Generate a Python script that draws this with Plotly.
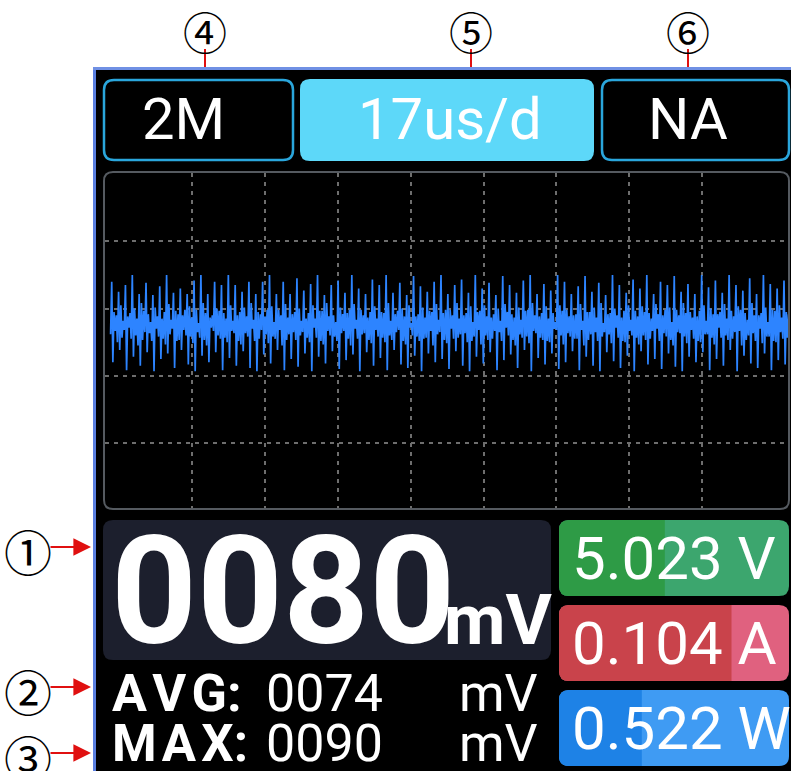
import plotly.graph_objects as go

W, H = 791, 771

# ---------------- data ----------------
# status bar labels
sample_rate_label = "2M"
timebase_label = "17us/d"
trigger_label = "NA"

# main readings
vpp_value = "0080"
vpp_unit = "mV"
avg_label = "A\u200aV\u200aG:"
max_label = "M\u200aA\u200aX:"
avg_value = "0074"
max_value = "0090"
stat_unit = "mV"

# side meters: value, unit, gauge fraction (dark part)
meter_values = ["5.023", "0.104", "0.522"]
meter_units = ["V", "A", "W"]
meter_fill = [0.46, 0.75, 0.36]

# scope settings
time_per_div_us = 17
mv_per_div = 60
samples_per_cell = 6
cell_us = 1.6
t_start_us = -2.0

# waveform samples (mV), read per 1.6 us cell
core_hi = [12, 18, 8, 15, 20, 10, 16, 6, 19, 13, 9, 17, 14, 20, 7, 15, 11, 18, 9, 16, 20, 12, 8, 17, 14,
           19, 10, 15, 6, 18, 13, 20, 9, 16, 11, 19, 14, 7, 17, 12, 20, 10, 15, 18, 8, 16, 13, 19, 11, 14,
           20, 9, 17, 12, 18, 7, 15, 19, 10, 16, 13, 20, 8, 17, 11, 18, 14, 9, 19, 12, 16, 20, 10, 15, 7,
           18, 13, 17, 11, 19, 9, 16, 14, 20, 12, 8, 18, 15, 10, 19, 13, 17, 11, 20, 9, 16, 14, 18, 12]
spike_top = [39, 30, 36, 45, 28, 38, 27, 35, 45, 29, 33, 28, 40, 45, 28, 39, 36, 45, 36, 30, 39, 28, 39, 45, 28,
             39, 28, 42, 31, 37, 45, 27, 36, 40, 29, 45, 33, 28, 41, 36, 45, 29, 38, 27, 44, 35, 30, 39, 45, 28,
             36, 41, 29, 45, 33, 38, 27, 44, 36, 29, 40, 45, 28, 37, 31, 45, 39, 28, 35, 44, 30, 38, 27, 45, 36,
             29, 41, 33, 45, 28, 39, 36, 44, 30, 37, 28, 45, 34, 40, 29, 45, 36, 31, 42, 28, 45, 37, 33, 40]
core_lo = [-8, -15, -4, -12, -18, -6, -14, -10, -17, -3, -13, -9, -16, -11, -18, -5, -12, -15, -7, -17, -10, -14, -4, -16, -12,
           -18, -8, -13, -6, -15, -11, -17, -9, -14, -5, -18, -12, -7, -16, -10, -15, -13, -4, -17, -9, -14, -11, -18, -6, -16,
           -12, -8, -15, -10, -17, -13, -5, -14, -9, -18, -11, -16, -7, -13, -15, -4, -17, -10, -12, -18, -8, -14, -6, -16, -11,
           -15, -9, -17, -13, -5, -14, -10, -18, -7, -16, -12, -15, -8, -17, -11, -13, -6, -18, -9, -14, -16, -10, -15, -12]
mid_up = [9, 4, 11, 6, 13, 3, 8, 12, 5, 10, 14, 7, 2, 11, 9, 13, 6, 4, 12, 8, 5, 10, 14, 3, 9,
          7, 12, 4, 11, 6, 13, 8, 3, 10, 14, 5, 9, 12, 6, 11, 4, 13, 8, 2, 10, 7, 12, 5, 14, 9,
          6, 11, 3, 13, 8, 10, 4, 12, 7, 5, 14, 9, 11, 6, 3, 13, 8, 10, 4, 12, 7, 2, 11, 9, 13,
          5, 8, 12, 6, 10, 14, 3, 9, 11, 7, 13, 4, 10, 12, 6, 8, 14, 5, 9, 11, 3, 13, 7, 10]
mid_dn = [-5, -11, -2, -9, -13, -7, -3, -12, -8, -14, -4, -10, -6, -13, -2, -9, -11, -5, -14, -7, -3, -12, -8, -10, -4,
          -13, -6, -9, -11, -2, -14, -5, -10, -7, -12, -3, -8, -13, -4, -11, -9, -6, -14, -2, -10, -12, -5, -8, -13, -3,
          -11, -7, -14, -4, -9, -12, -6, -2, -13, -8, -10, -5, -11, -14, -3, -9, -7, -12, -4, -13, -6, -10, -8, -2, -14,
          -5, -11, -9, -12, -3, -7, -13, -6, -10, -4, -14, -8, -11, -2, -9, -12, -5, -13, -7, -3, -10, -14, -6, -11]
spike_bottom = [-33, -22, -40, -28, -36, -24, -41, -30, -25, -38, -22, -35, -41, -27, -33, -24, -40, -29, -36, -23, -38, -41, -26, -34, -22,
                -40, -30, -37, -25, -41, -28, -34, -23, -39, -31, -26, -41, -24, -36, -29, -40, -22, -35, -38, -27, -41, -25, -33, -30, -39,
                -23, -36, -41, -28, -34, -24, -40, -31, -26, -38, -22, -41, -29, -35, -25, -39, -33, -23, -40, -28, -36, -41, -24, -32, -38,
                -27, -41, -23, -35, -30, -39, -25, -37, -41, -28, -33, -24, -40, -30, -36, -22, -41, -27, -34, -38, -25, -40, -31, -35]

callouts_top = ["④", "⑤", "⑥"]
callouts_left = ["①", "②", "③"]

# ---------------- helpers ----------------
def px(x):
    return x / W

def py(y):
    return 1 - y / H

def rrect(x0, y0, x1, y1, r, rl=True, rr=True):
    """rounded rectangle path in paper coords (inputs in pixels from top-left)"""
    a = r if rl else 0
    b = r if rr else 0
    pts = [f"M {px(x0 + a)},{py(y0)}", f"L {px(x1 - b)},{py(y0)}"]
    if b:
        pts.append(f"Q {px(x1)},{py(y0)} {px(x1)},{py(y0 + b)}")
    pts.append(f"L {px(x1)},{py(y1 - b)}")
    if b:
        pts.append(f"Q {px(x1)},{py(y1)} {px(x1 - b)},{py(y1)}")
    pts.append(f"L {px(x0 + a)},{py(y1)}")
    if a:
        pts.append(f"Q {px(x0)},{py(y1)} {px(x0)},{py(y1 - a)}")
    pts.append(f"L {px(x0)},{py(y0 + a)}")
    if a:
        pts.append(f"Q {px(x0)},{py(y0)} {px(x0 + a)},{py(y0)}")
    pts.append("Z")
    return " ".join(pts)

shapes = []
annotations = []

def add_path(path, fill=None, line=None, lw=0, layer="below"):
    shapes.append(dict(type="path", xref="paper", yref="paper", path=path,
                       fillcolor=fill if fill else "rgba(0,0,0,0)",
                       line=dict(color=line if line else "rgba(0,0,0,0)", width=lw),
                       layer=layer))

def text(x, y, s, size, color="white", weight="normal", xanchor="center", family="Roboto"):
    annotations.append(dict(x=px(x), y=py(y), xref="paper", yref="paper", text=s,
                            showarrow=False, xanchor=xanchor, yanchor="middle", borderpad=0,
                            font=dict(family=family, size=size, color=color, weight=weight)))

# ---------------- screen ----------------
shapes.append(dict(type="rect", xref="paper", yref="paper", x0=px(94), x1=1, y0=0, y1=py(68),
                   fillcolor="black", line=dict(width=0), layer="below"))
shapes.append(dict(type="line", xref="paper", yref="paper", x0=px(94.5), x1=px(94.5), y0=0, y1=py(67),
                   line=dict(color="#5a7fe0", width=3), layer="above"))
shapes.append(dict(type="line", xref="paper", yref="paper", x0=px(93), x1=1, y0=py(68.5), y1=py(68.5),
                   line=dict(color="#7090e4", width=3), layer="above"))

# top status boxes
add_path(rrect(104, 80, 293, 160, 10), fill="black", line="#2aa6dc", lw=2.5)
add_path(rrect(300, 79, 594, 161, 10), fill="#5dd8f9")
add_path(rrect(602, 80, 789, 160, 10), fill="black", line="#2aa6dc", lw=2.5)
text(183, 119, sample_rate_label, 58)
text(450, 119, timebase_label, 58)
text(688, 119, trigger_label, 58)

# waveform panel
add_path(rrect(104, 172, 789, 509, 9), fill="black", line="#555a60", lw=2)

# big reading panel
add_path(rrect(103, 520, 551, 660, 10), fill="#1c1f2d")
text(110, 592, vpp_value, 150, weight="bold", xanchor="left")
text(443, 619, vpp_unit, 71, weight="bold", xanchor="left")

# AVG / MAX
text(111, 693, avg_label, 52, weight="bold", xanchor="left")
text(265, 693, avg_value, 52, xanchor="left")
text(539, 693, stat_unit, 52, xanchor="right")
text(111, 743, max_label, 51, weight="bold", xanchor="left")
text(265, 743, max_value, 52, xanchor="left")
text(539, 743, stat_unit, 52, xanchor="right")

# side meters
meter_rows = [(520, 596), (605, 681), (690, 766)]
meter_dark = ["#2e9b46", "#c9434b", "#1e82e6"]
meter_light = ["#3ca66e", "#e0617f", "#3f9bf3"]
mx0, mx1 = 559, 789
for i, (y0, y1) in enumerate(meter_rows):
    add_path(rrect(mx0, y0, mx1, y1, 10), fill=meter_light[i])
    split = mx0 + meter_fill[i] * (mx1 - mx0)
    add_path(rrect(mx0, y0, split, y1, 10, rl=True, rr=False), fill=meter_dark[i])
    text(571, (y0 + y1) / 2 + 0.5, meter_values[i] + " " + meter_units[i], 60, xanchor="left")

# callouts
for cx, s in zip([205, 471, 688], callouts_top):
    text(cx, 31, s, 44, color="black", family="Noto Sans CJK JP")
    shapes.append(dict(type="line", xref="paper", yref="paper", x0=px(cx), x1=px(cx), y0=py(49), y1=py(67),
                       line=dict(color="#e01010", width=2)))
for cy, s in zip([550, 690, 756], callouts_left):
    text(28, cy, s, 48, color="black", family="Noto Sans CJK JP")
    annotations.append(dict(x=px(91), y=py(cy - 3), xref="paper", yref="paper", text="", showarrow=True,
                            ax=-42, ay=0, arrowhead=2, arrowsize=1.6, arrowwidth=2.2,
                            arrowcolor="#e01010", standoff=0, startstandoff=0))

# ---------------- waveform trace ----------------
samples = []
for a, b, c, m1, m2, d in zip(core_lo, spike_top, spike_bottom, core_hi, mid_dn, mid_up):
    samples.extend([a, b, c, m1, m2, d])
dt = cell_us / samples_per_cell
times = [t_start_us + i * dt for i in range(len(samples))]

fig = go.Figure()
fig.add_trace(go.Scatter(x=times, y=samples, mode="lines",
                         line=dict(color="#2d84ff", width=1.7), hoverinfo="skip", showlegend=False))

x_left_px, x_right_px = 105, 788
y_top_px, y_bot_px = 173, 508
grid_x = [time_per_div_us * k for k in range(1, 9)]
grid_y = [15 + mv_per_div * k for k in (-2, -1, 0, 1)]

fig.update_layout(
    width=W, height=H,
    margin=dict(l=0, r=0, t=0, b=0),
    paper_bgcolor="white",
    plot_bgcolor="rgba(0,0,0,0)",
    showlegend=False,
    shapes=shapes,
    annotations=annotations,
    xaxis=dict(domain=[px(x_left_px), px(x_right_px)], range=[-3.3, 156],
               tickvals=grid_x, showticklabels=False, ticks="",
               showgrid=True, gridcolor="#6e6e6e", gridwidth=1.5, griddash="4px,5px",
               zeroline=False, showline=False, fixedrange=True),
    yaxis=dict(domain=[py(y_bot_px), py(y_top_px)], range=[-163, 136],
               tickvals=grid_y, showticklabels=False, ticks="",
               showgrid=True, gridcolor="#6e6e6e", gridwidth=1.5, griddash="4px,5px",
               zeroline=False, showline=False, fixedrange=True),
)

fig.write_html("out.html", config={"displayModeBar": False},
               post_script="document.body.style.margin='0';")
